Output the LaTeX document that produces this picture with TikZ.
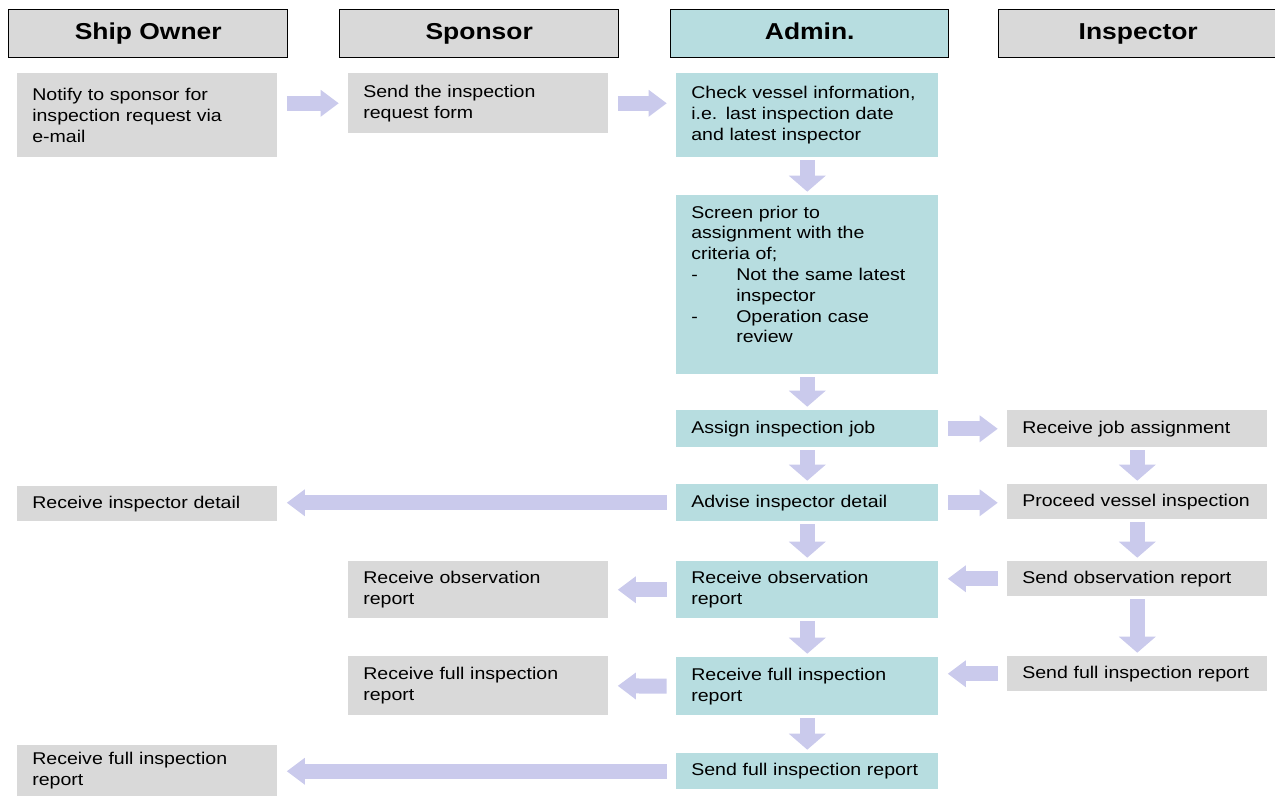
\documentclass[tikz,border=0pt]{standalone}
\usepackage{fontspec}
\setmainfont{Liberation Sans}[FakeStretch=1.15]
\usepackage{tikz}
\usetikzlibrary{arrows.meta}
\definecolor{boxgray}{RGB}{217,217,217}
\definecolor{boxteal}{RGB}{183,221,224}
\definecolor{arrowlav}{RGB}{202,202,236}

\begin{document}
\begin{tikzpicture}[x=0.75pt,y=0.75pt,yscale=-1,xscale=1,
  head/.style={draw=black,line width=1.1pt,fill=boxgray,anchor=north west,minimum width=209.25pt,minimum height=36pt,inner sep=0pt,text height=12.5pt,text depth=3.5pt,font=\fontsize{17.25}{20}\selectfont\bfseries},
  task/.style={fill=boxgray,anchor=north west,inner xsep=11.25pt,inner ysep=0pt,text width=172.5pt,align=left,font=\fontsize{12.75}{15.6}\selectfont},
  admintask/.style={task,fill=boxteal,text width=174pt},
  hflow/.style={draw=arrowlav,line width=11.25pt,-{Triangle[length=13.5pt,width=20.25pt,line width=0pt]},shorten <=7pt,shorten >=7pt},
  vflow/.style={draw=arrowlav,line width=11.25pt,-{Triangle[length=12pt,width=27.75pt,line width=0pt]},shorten <=2pt,shorten >=2.5pt}]
\useasboundingbox (0,0) rectangle (1275,796);
\clip (0,0) rectangle (1275,796);

% Headers
\node[head] (owner) at (8,9) {Ship Owner};
\node[head] (sponsor) at (339,9) {Sponsor};
\node[head,fill=boxteal,minimum width=208.5pt] (admin) at (670,9) {Admin.};
\node[head] (inspector) at (998,9) {Inspector};

% Text Node
\node[task,minimum height=63pt] (notify) at (17,73) {Notify to sponsor for\\inspection request via\\e-mail};
\node[task,minimum height=45pt] (reqform) at (348,73) {Send the inspection\\request form};
\node[admintask,minimum height=63pt] (check) at (676,73) {Check vessel information,\\i.e. last inspection date\\and latest inspector};
\node[admintask,minimum height=134.25pt] (screen) at (676,195) {Screen prior to\\assignment with the\\criteria of;\\\makebox[33.75pt][l]{-}Not the same latest\\\hspace*{33.75pt}inspector\\\makebox[33.75pt][l]{-}Operation case\\\hspace*{33.75pt}review\\\mbox{}};
\node[admintask,minimum height=27.75pt] (assign) at (676,410) {Assign inspection job};
\node[task,minimum height=27.75pt] (jobrecv) at (1007,410) {Receive job assignment};
\node[admintask,minimum height=27.75pt] (advise) at (676,484) {Advise inspector detail};
\node[task,minimum height=26.25pt] (detailrecv) at (17,486) {Receive inspector detail};
\node[task,minimum height=26.25pt] (proceed) at (1007,484) {Proceed vessel inspection};
\node[admintask,minimum height=42.75pt] (obsadmin) at (676,561) {Receive observation\\report};
\node[task,minimum height=26.25pt] (obssend) at (1007,561) {Send observation report};
\node[task,minimum height=42.75pt] (obssponsor) at (348,561) {Receive observation\\report};
\node[admintask,minimum height=43.5pt] (fulladmin) at (676,657) {Receive full inspection\\report};
\node[task,minimum height=26.25pt] (fullsend) at (1007,656) {Send full inspection report};
\node[task,minimum height=44.25pt] (fullsponsor) at (348,656) {Receive full inspection\\report};
\node[admintask,minimum height=27pt] (adminsend) at (676,753) {Send full inspection report};
\node[task,minimum height=38.25pt] (fullowner) at (17,745) {Receive full inspection\\report};

% Arrows
\draw[hflow] (notify.east |- reqform.west) -- (reqform.west);
\draw[hflow] (reqform.east) -- (reqform.east -| check.west);
\draw[vflow] (check.south) -- (screen.north);
\draw[vflow] (screen.south) -- (assign.north);
\draw[hflow] (assign.east) -- (jobrecv.west);
\draw[vflow] (assign.south) -- (advise.north);
\draw[vflow] (jobrecv.south) -- (proceed.north);
\draw[hflow] (advise.west) -- (advise.west -| detailrecv.east);
\draw[hflow] (advise.east) -- (advise.east -| proceed.west);
\draw[vflow] (advise.south) -- (obsadmin.north);
\draw[vflow] (proceed.south) -- (obssend.north);
\draw[hflow] (obssend.west) -- (obssend.west -| obsadmin.east);
\draw[hflow] (obsadmin.west) -- (obssponsor.east);
\draw[vflow] (obssend.south) -- (fullsend.north);
\draw[vflow] (obsadmin.south) -- (fulladmin.north);
\draw[hflow] (fullsend.west) -- (fullsend.west -| fulladmin.east);
\draw[hflow] (fulladmin.west) -- (fullsponsor.east);
\draw[vflow] (fulladmin.south) -- (adminsend.north);
\draw[hflow] (adminsend.west) -- (adminsend.west -| fullowner.east);
\end{tikzpicture}
\end{document}
